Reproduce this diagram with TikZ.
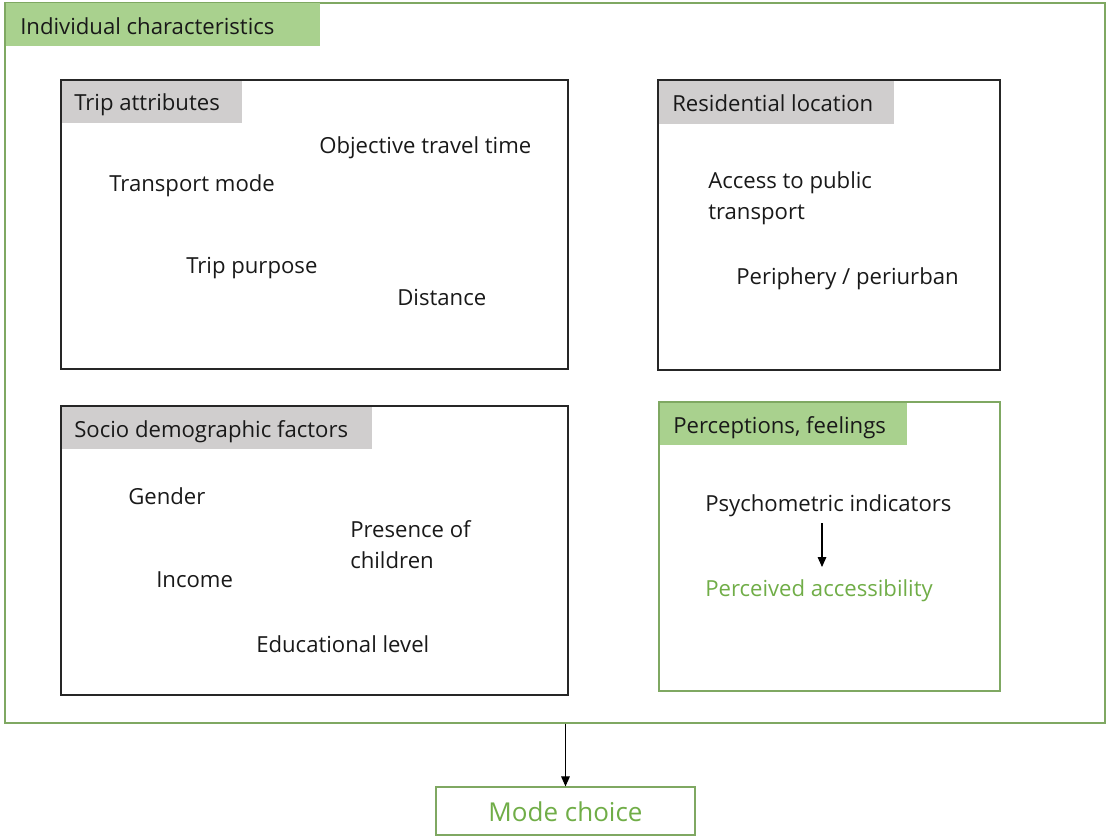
\documentclass[tikz,border=0pt]{standalone}
\usepackage{fontspec}
\setmainfont{Open Sans}
\usetikzlibrary{fit,arrows.meta,calc}
\definecolor{gborder}{HTML}{7FA862}
\definecolor{gfill}{HTML}{A9D18E}
\definecolor{gtext}{HTML}{70AD47}
\definecolor{hgrey}{HTML}{D0CECE}
\tikzset{
  frame/.style={draw=gborder, line width=0.9pt, inner sep=0pt},
  blackbox/.style={draw=black!85, line width=0.9pt, inner sep=0pt},
  greybar/.style={fill=hgrey, draw=none, inner sep=0pt},
  greenbar/.style={fill=gfill, draw=none, inner sep=0pt},
  lbl/.style={anchor=base west, inner sep=0pt, font=\fontsize{16.6}{19}\selectfont, text=black!90},
  glbl/.style={lbl, text=gtext},
  arr/.style={-{Triangle[length=7.5pt,width=6.5pt]}, line width=0.8pt, black},
}
\begin{document}
\begin{tikzpicture}[x=0.75pt,y=-0.75pt]
\useasboundingbox (0,0) rectangle (1106,837);
% outer frame
\node[frame, fit={(5,3) (1105,723)}] (outer) {};
\node[greenbar, fit={(5.5,3.5) (320,46)}] (outerhead) {};
\node[lbl] (outertitle) at (20,34.5) {Individual characteristics};
% trip attributes
\node[greybar, fit={(61,80) (242,123)}] (triphead) {};
\node[blackbox, fit={(61,80) (568,369)}] (trip) {};
\node[lbl] (triptitle) at (74,110.5) {Trip attributes};
\node[lbl] (ott) at (319,153.5) {Objective travel time};
\node[lbl] (tm) at (109,191.5) {Transport mode};
\node[lbl] (tp) at (186,273.5) {Trip purpose};
\node[lbl] (dist) at (397,305.5) {Distance};
% residential location
\node[greybar, fit={(658,80) (894,124)}] (reshead) {};
\node[blackbox, fit={(658,80) (1000,370)}] (res) {};
\node[lbl] (restitle) at (672,111.5) {Residential location};
\node[lbl] (acc1) at (708,188.5) {Access to public};
\node[lbl] (acc2) at (708,219.5) {transport};
\node[lbl] (peri) at (736,284.5) {Periphery / periurban};
% socio demographic
\node[greybar, fit={(61,406) (372,449)}] (sochead) {};
\node[blackbox, fit={(61,406) (568,695)}] (soc) {};
\node[lbl] (soctitle) at (74,437.5) {Socio demographic factors};
\node[lbl] (gender) at (128,504.5) {Gender};
\node[lbl] (pres1) at (350,537.5) {Presence of};
\node[lbl] (pres2) at (350,568.5) {children};
\node[lbl] (income) at (156,587.5) {Income};
\node[lbl] (edu) at (256,652.5) {Educational level};
% perceptions
\node[greenbar, fit={(659,402) (907,445)}] (perhead) {};
\node[frame, fit={(659,402) (1000,691)}] (per) {};
\node[lbl] (pertitle) at (673,433.5) {Perceptions, feelings};
\node[lbl] (psych) at (705,511.5) {Psychometric indicators};
\node[glbl] (percacc) at (705,596.5) {Perceived accessibility};
\coordinate (psychbot) at (822,523);
\coordinate (percacctop) at (822,567);
\draw[arr] (psychbot) -- (percacctop);
% mode choice
\node[frame, fit={(436,787) (695,835)}] (mode) {};
\node[anchor=center, inner sep=0pt, font=\fontsize{19.5}{22}\selectfont, text=gtext] (modetext) at (565.5,812) {Mode choice};
\draw[arr] (outer.south -| mode.north) -- (mode.north);
\end{tikzpicture}
\end{document}
